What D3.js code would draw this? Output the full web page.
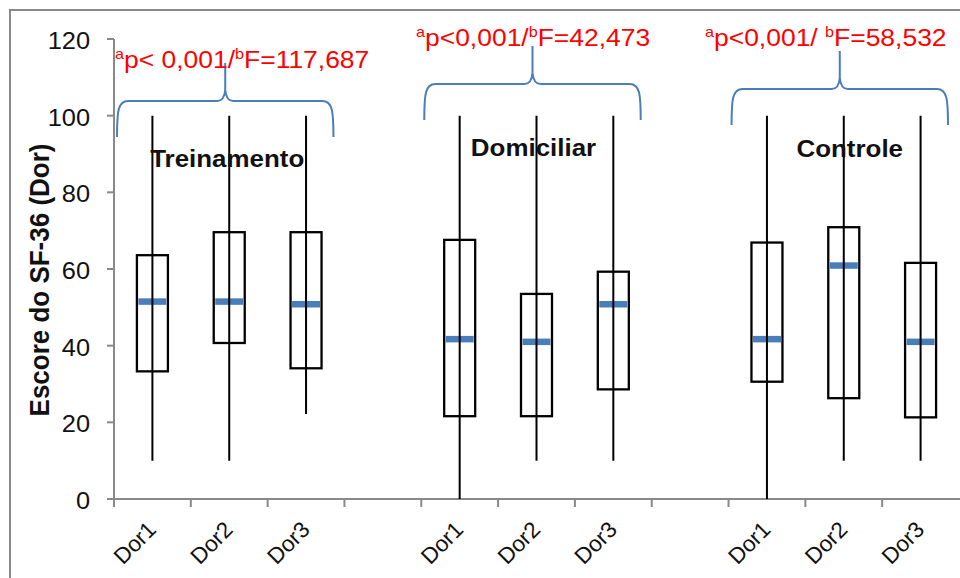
<!DOCTYPE html>
<html><head><meta charset="utf-8">
<script src="https://cdn.jsdelivr.net/npm/d3@7"></script>
<style>
body{margin:0;background:#fff}
svg{display:block;font-family:"Liberation Sans",Arial,sans-serif}
</style></head>
<body><svg id="c" width="960" height="578"></svg>
<script>
// ---- data ----
const groups = ["Treinamento", "Domiciliar", "Controle"];
const timepoints = ["Dor1", "Dor2", "Dor3"];
const whiskerMax = [[100, 100, 100], [100, 100, 100], [100, 100, 100]];
const q3Values   = [[63.6, 69.6, 69.6], [67.6, 53.5, 59.3], [66.9, 70.9, 61.6]];
const medians    = [[51.5, 51.5, 50.8], [41.7, 41.0, 50.8], [41.7, 60.9, 41.0]];
const q1Values   = [[33.3, 40.7, 34.1], [21.6, 21.6, 28.6], [30.6, 26.3, 21.3]];
const whiskerMin = [[10, 10, 22.2], [0, 10, 10], [0, 10, 10]];
const yTicks = [0, 20, 40, 60, 80, 100, 120];
const yTitle = "Escore do SF-36 (Dor)";
const annotP = ["p< 0,001/", "p<0,001/", "p<0,001/ "];
const annotF = ["F=117,687", "F=42,473", "F=58,532"];

// ---- layout ----
const SX = 1.08; // horizontal text stretch of the original
const braceY = [{e:137, h:101, t:63}, {e:120, h:84, t:46}, {e:125, h:89, t:51}];
const annotPos = [{x:115, y:68}, {x:416, y:46}, {x:705, y:46}];
const labelPos = [{dx:-2, y:167}, {dx:-3, y:156}, {dx:6, y:157}];
const blue = "#4a7ebb", gray = "#898989";

const svg = d3.select("#c");
const y = d3.scaleLinear().domain([0, 120]).range([499, 39]);
const keys = [];
groups.forEach((g, gi) => {
  timepoints.forEach(t => keys.push(g + "|" + t));
  if (gi < groups.length - 1) keys.push("gap" + gi);
});
const x = d3.scaleBand().domain(keys).range([114, 959]).padding(0);
const bw = x.bandwidth();

// frame
svg.append("path").attr("d", "M10,578V10H960").attr("fill", "none")
  .attr("stroke", gray).attr("stroke-width", 2);

// y axis
svg.append("line").attr("x1", 114).attr("x2", 114).attr("y1", y(120)).attr("y2", y(0))
  .attr("stroke", gray).attr("stroke-width", 2);
yTicks.forEach(t => {
  svg.append("line").attr("x1", 107).attr("x2", 114).attr("y1", y(t)).attr("y2", y(t))
    .attr("stroke", gray).attr("stroke-width", 2);
  svg.append("text").attr("transform", `translate(90,${y(t) + 10}) scale(${SX},1)`)
    .attr("text-anchor", "end").attr("font-size", 23.5).attr("fill", "#111").text(t);
});
svg.append("text").attr("transform", `translate(49,280) scale(${SX},1) rotate(-90)`)
  .attr("text-anchor", "middle").attr("font-size", 26).attr("font-weight", "bold")
  .attr("fill", "#111").text(yTitle);

// x axis
svg.append("line").attr("x1", 107).attr("x2", 960).attr("y1", y(0)).attr("y2", y(0))
  .attr("stroke", gray).attr("stroke-width", 2);
keys.forEach(k => {
  svg.append("line").attr("x1", x(k)).attr("x2", x(k)).attr("y1", y(0)).attr("y2", y(0) + 8)
    .attr("stroke", gray).attr("stroke-width", 2);
});
keys.filter(k => !k.startsWith("gap")).forEach(k => {
  const cx = x(k) + bw / 2 + 5;
  svg.append("text").attr("transform", `translate(${cx},531) rotate(-45)`)
    .attr("text-anchor", "end").attr("font-size", 22.5).attr("fill", "#111")
    .text(k.split("|")[1]);
});

// boxes
groups.forEach((g, gi) => {
  timepoints.forEach((t, ti) => {
    const cx = x(g + "|" + t) + bw / 2;
    svg.append("rect").attr("x", cx - 15.5).attr("y", y(q3Values[gi][ti]))
      .attr("width", 31).attr("height", y(q1Values[gi][ti]) - y(q3Values[gi][ti]))
      .attr("fill", "none").attr("stroke", "#000").attr("stroke-width", 2.3);
    svg.append("line").attr("x1", cx - 14).attr("x2", cx + 14)
      .attr("y1", y(medians[gi][ti])).attr("y2", y(medians[gi][ti]))
      .attr("stroke", blue).attr("stroke-width", 6.5);
    svg.append("line").attr("x1", cx).attr("x2", cx)
      .attr("y1", y(whiskerMax[gi][ti])).attr("y2", y(whiskerMin[gi][ti]))
      .attr("stroke", "#000").attr("stroke-width", 2);
  });
});

// braces, group labels, annotations
groups.forEach((g, gi) => {
  const x0 = x(g + "|" + timepoints[0]) + 3;
  const x1 = x(g + "|" + timepoints[2]) + bw - 11;
  const xm = (x0 + x1) / 2;
  const b = braceY[gi];
  const d = `M${x0},${b.e} C${x0},${b.h + 10} ${x0 + 1},${b.h} ${x0 + 11},${b.h}` +
    ` L${xm - 8},${b.h} Q${xm - 1},${b.h} ${xm},${b.h - 11} L${xm},${b.t}` +
    ` M${xm},${b.h - 11} Q${xm + 1},${b.h} ${xm + 8},${b.h} L${x1 - 11},${b.h}` +
    ` C${x1 - 1},${b.h} ${x1},${b.h + 10} ${x1},${b.e}`;
  svg.append("path").attr("d", d).attr("fill", "none").attr("stroke", blue)
    .attr("stroke-width", 2).attr("stroke-linejoin", "round");

  const lx = x(g + "|" + timepoints[1]) + bw / 2 + labelPos[gi].dx;
  svg.append("text").attr("transform", `translate(${lx},${labelPos[gi].y}) scale(${SX},1)`)
    .attr("text-anchor", "middle").attr("font-size", 24).attr("font-weight", "bold")
    .attr("fill", "#111").text(g);

  const a = annotPos[gi];
  const tx = svg.append("text").attr("transform", `translate(${a.x},${a.y}) scale(${SX},1)`)
    .attr("fill", "#ff0000").attr("font-size", 24.5).style("white-space", "pre");
  tx.append("tspan").attr("font-size", 15).attr("dy", -9).text("a");
  tx.append("tspan").attr("dy", 9).text(annotP[gi]);
  tx.append("tspan").attr("font-size", 15).attr("dy", -9).text("b");
  tx.append("tspan").attr("dy", 9).text(annotF[gi]);
});
</script>
</body></html>
